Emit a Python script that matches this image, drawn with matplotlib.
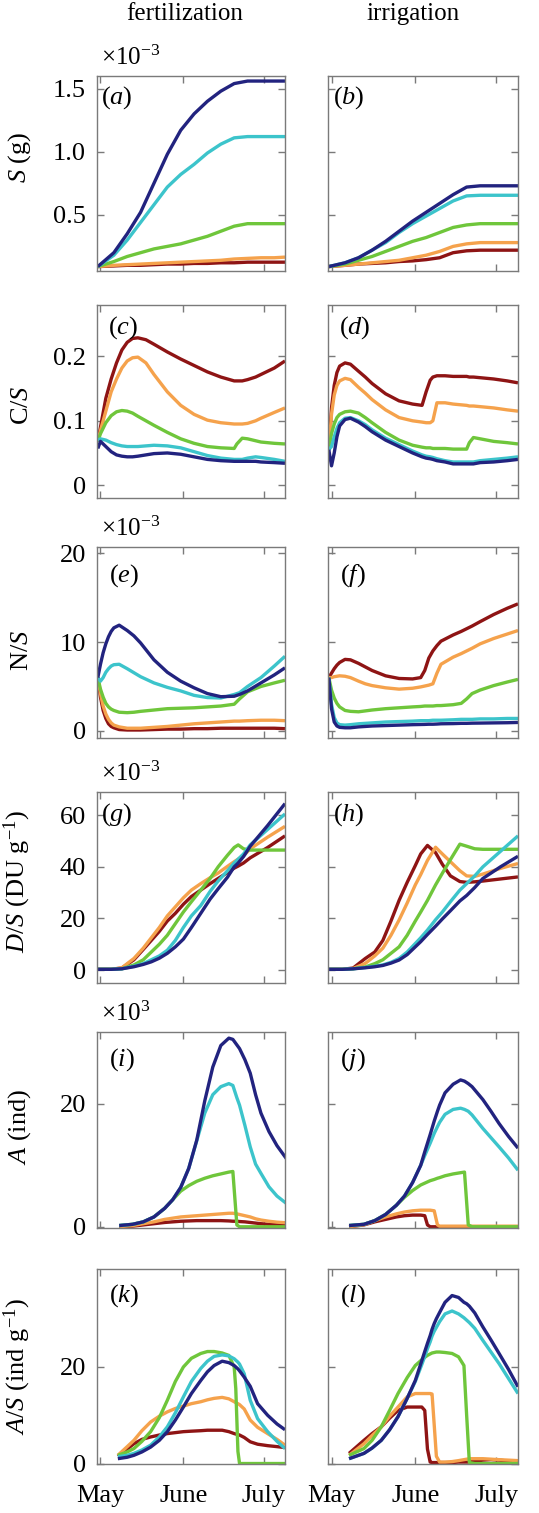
import matplotlib
matplotlib.use("Agg")
import matplotlib.pyplot as plt

plt.rcParams["font.family"] = ["Liberation Serif", "DejaVu Serif"]
plt.rcParams["mathtext.fontset"] = "custom"
plt.rcParams["mathtext.rm"] = "Liberation Serif"
plt.rcParams["mathtext.it"] = "Liberation Serif:italic"
plt.rcParams["mathtext.bf"] = "Liberation Serif:bold"

# ---- data: days counted from 1 May; five scenarios per panel ----
a_days = [-1, 5, 10, 15, 20, 25, 30, 35, 40, 45, 50, 55, 60, 65, 69]
a_red = [0.09, 0.095, 0.1, 0.1, 0.105, 0.11, 0.11, 0.115, 0.115, 0.12, 0.12, 0.125, 0.125, 0.125, 0.125]
a_orange = [0.09, 0.1, 0.105, 0.11, 0.115, 0.12, 0.125, 0.13, 0.135, 0.14, 0.15, 0.155, 0.16, 0.16, 0.165]
a_green = [0.09, 0.13, 0.17, 0.2, 0.23, 0.25, 0.27, 0.3, 0.33, 0.37, 0.41, 0.43, 0.43, 0.43, 0.43]
a_cyan = [0.09, 0.18, 0.3, 0.44, 0.58, 0.72, 0.82, 0.9, 0.99, 1.06, 1.11, 1.12, 1.12, 1.12, 1.12]
a_navy = [0.09, 0.2, 0.35, 0.52, 0.75, 0.98, 1.17, 1.3, 1.4, 1.48, 1.54, 1.56, 1.56, 1.56, 1.56]

b_days = a_days
b_red = [0.09, 0.1, 0.11, 0.115, 0.12, 0.13, 0.135, 0.145, 0.16, 0.2, 0.215, 0.22, 0.22, 0.22, 0.22]
b_orange = [0.09, 0.1, 0.11, 0.12, 0.13, 0.14, 0.16, 0.18, 0.21, 0.25, 0.27, 0.28, 0.28, 0.28, 0.28]
b_green = [0.09, 0.11, 0.14, 0.17, 0.21, 0.25, 0.29, 0.32, 0.36, 0.4, 0.42, 0.43, 0.43, 0.43, 0.43]
b_cyan = [0.09, 0.12, 0.16, 0.22, 0.28, 0.36, 0.43, 0.49, 0.55, 0.61, 0.65, 0.655, 0.655, 0.655, 0.655]
b_navy = [0.09, 0.12, 0.16, 0.22, 0.29, 0.37, 0.45, 0.52, 0.59, 0.66, 0.72, 0.73, 0.73, 0.73, 0.73]

c_days = [-1, 0, 2, 4, 6, 8, 10, 12, 14, 17, 20, 25, 30, 35, 40, 45, 50, 51, 53, 55, 58, 60, 65, 69]
c_red = [0.068, 0.09, 0.135, 0.165, 0.19, 0.21, 0.222, 0.228, 0.229, 0.226, 0.219, 0.207, 0.196, 0.186,
         0.176, 0.168, 0.162, 0.162, 0.162, 0.164, 0.168, 0.172, 0.182, 0.193]
c_orange = [0.068, 0.085, 0.115, 0.145, 0.165, 0.182, 0.193, 0.198, 0.199, 0.19, 0.172, 0.145, 0.124, 0.11,
            0.101, 0.097, 0.095, 0.095, 0.095, 0.096, 0.1, 0.104, 0.113, 0.12]
c_green = [0.068, 0.08, 0.097, 0.108, 0.114, 0.116, 0.115, 0.112, 0.107, 0.1, 0.093, 0.082, 0.072, 0.065,
           0.06, 0.058, 0.057, 0.064, 0.073, 0.072, 0.069, 0.067, 0.065, 0.064]
c_cyan = [0.07, 0.072, 0.07, 0.066, 0.063, 0.061, 0.06, 0.06, 0.06, 0.061, 0.062, 0.061, 0.058, 0.052,
          0.046, 0.042, 0.04, 0.04, 0.04, 0.042, 0.044, 0.043, 0.04, 0.037]
c_navy = [0.057, 0.068, 0.06, 0.052, 0.047, 0.045, 0.044, 0.044, 0.045, 0.047, 0.049, 0.05, 0.048, 0.044,
          0.04, 0.038, 0.037, 0.037, 0.037, 0.037, 0.037, 0.036, 0.035, 0.034]

d_days = [-1, 0, 1, 2, 3, 5, 7, 10, 12.5, 15, 20, 25, 30, 33.5, 35, 36.5, 37.5, 39, 42, 45, 50, 51, 52.5,
          55, 60, 65, 69]
d_red = [0.055, 0.12, 0.155, 0.175, 0.185, 0.19, 0.188, 0.177, 0.168, 0.158, 0.142, 0.131, 0.126, 0.124,
         0.145, 0.163, 0.168, 0.17, 0.17, 0.169, 0.169, 0.168, 0.168, 0.167, 0.165, 0.162, 0.159]
d_orange = [0.055, 0.11, 0.14, 0.155, 0.162, 0.166, 0.164, 0.152, 0.143, 0.133, 0.117, 0.105, 0.1, 0.098,
            0.097, 0.097, 0.1, 0.128, 0.128, 0.126, 0.124, 0.123, 0.123, 0.122, 0.12, 0.117, 0.115]
d_green = [0.055, 0.08, 0.095, 0.105, 0.11, 0.114, 0.115, 0.112, 0.105, 0.097, 0.082, 0.07, 0.062, 0.059,
           0.058, 0.058, 0.057, 0.057, 0.057, 0.056, 0.056, 0.066, 0.074, 0.072, 0.068, 0.066, 0.064]
d_cyan = [0.055, 0.06, 0.075, 0.088, 0.097, 0.104, 0.105, 0.1, 0.094, 0.086, 0.073, 0.063, 0.053, 0.047,
          0.045, 0.044, 0.043, 0.041, 0.038, 0.036, 0.036, 0.036, 0.036, 0.038, 0.04, 0.042, 0.044]
d_navy = [0.055, 0.03, 0.05, 0.075, 0.092, 0.102, 0.104, 0.098, 0.091, 0.083, 0.07, 0.06, 0.05, 0.044,
          0.042, 0.041, 0.04, 0.038, 0.036, 0.033, 0.033, 0.033, 0.033, 0.035, 0.036, 0.038, 0.04]

e_days = [-1, 0, 1, 2, 3, 4, 5, 7, 10, 12.5, 15, 20, 25, 30, 35, 40, 45, 50, 52, 55, 60, 65, 69]
e_red = [6.0, 3.8, 2.3, 1.4, 0.8, 0.5, 0.35, 0.15, 0.1, 0.1, 0.1, 0.15, 0.2, 0.2, 0.25, 0.25, 0.3, 0.3,
         0.3, 0.3, 0.3, 0.3, 0.25]
e_orange = [6.0, 4.2, 2.8, 1.9, 1.3, 0.9, 0.65, 0.45, 0.3, 0.3, 0.3, 0.4, 0.5, 0.65, 0.8, 0.9, 1.0, 1.1,
            1.1, 1.15, 1.2, 1.2, 1.15]
e_green = [6.0, 4.7, 3.8, 3.1, 2.7, 2.45, 2.3, 2.1, 2.05, 2.1, 2.2, 2.35, 2.5, 2.55, 2.6, 2.7, 2.8, 3.0,
           3.6, 4.4, 5.0, 5.4, 5.7]
e_cyan = [6.0, 5.6, 6.0, 6.6, 7.0, 7.3, 7.45, 7.5, 7.0, 6.55, 6.1, 5.4, 4.9, 4.5, 4.0, 3.75, 3.7, 4.1,
          4.3, 5.0, 6.0, 7.3, 8.4]
e_navy = [6.0, 7.5, 8.8, 9.8, 10.6, 11.2, 11.6, 11.9, 11.3, 10.7, 9.9, 8.0, 6.6, 5.6, 4.85, 4.2, 3.85,
          3.9, 4.1, 4.5, 5.4, 6.3, 7.1]

f_days = [-1, 0, 1, 2, 3, 5, 7, 10, 12.5, 15, 20, 25, 30, 33, 34.5, 36, 37.5, 39, 40.5, 45, 48, 50, 52,
          55, 60, 65, 69]
f_red = [6.0, 6.5, 7.0, 7.4, 7.7, 8.05, 8.0, 7.6, 7.2, 6.8, 6.2, 5.9, 5.85, 6.0, 6.8, 8.2, 9.0, 9.6,
         10.1, 10.8, 11.2, 11.5, 11.8, 12.3, 13.1, 13.8, 14.3]
f_orange = [6.0, 6.0, 6.1, 6.15, 6.2, 6.15, 6.0, 5.6, 5.3, 5.1, 4.85, 4.7, 4.8, 4.95, 5.05, 5.15, 5.3,
            6.5, 7.5, 8.3, 8.7, 9.0, 9.3, 9.8, 10.4, 10.9, 11.3]
f_green = [6.0, 4.6, 3.7, 3.1, 2.7, 2.3, 2.2, 2.15, 2.25, 2.35, 2.5, 2.6, 2.7, 2.75, 2.8, 2.8, 2.8,
           2.85, 2.85, 2.95, 3.1, 3.6, 4.2, 4.6, 5.1, 5.5, 5.8]
f_cyan = [6.0, 3.0, 1.5, 0.9, 0.7, 0.65, 0.7, 0.8, 0.85, 0.9, 1.0, 1.05, 1.1, 1.15, 1.15, 1.15, 1.2,
          1.2, 1.2, 1.25, 1.3, 1.3, 1.3, 1.35, 1.35, 1.4, 1.4]
f_navy = [6.0, 2.5, 1.0, 0.55, 0.4, 0.35, 0.35, 0.45, 0.5, 0.55, 0.6, 0.65, 0.7, 0.72, 0.73, 0.75, 0.75,
          0.77, 0.8, 0.82, 0.85, 0.85, 0.87, 0.88, 0.9, 0.92, 0.95]

g_days = [-1, 4, 8, 12.5, 16, 19, 22, 25, 28, 31, 34, 37.5, 41, 44, 47.5, 50, 51.5, 53.5, 56, 62.5, 69]
g_red = [0.3, 0.3, 0.8, 4, 8, 11.5, 15, 19, 22, 25.5, 28.5, 31, 33.5, 35.5, 37.8, 39.5, 40.3, 41.5,
         43.5, 47.5, 52]
g_orange = [0.3, 0.3, 0.9, 4.5, 8.5, 12.5, 16.5, 21, 24.5, 28, 31, 33.5, 35.8, 37.6, 40.2, 42, 43, 44.3,
            47, 51.5, 55.7]
g_green = [0.3, 0.3, 0.5, 2, 4, 7, 10, 13.5, 18, 22.5, 26.5, 31, 35.5, 40, 44.5, 47.5, 48.5, 47, 46.5,
           46.5, 46.5]
g_cyan = [0.3, 0.3, 0.5, 1.5, 2.5, 4, 5.5, 7.7, 11.5, 16.5, 21, 25, 30.5, 34.5, 38.5, 41.5, 43, 45,
          48.5, 54.5, 60.5]
g_navy = [0.3, 0.3, 0.5, 1.3, 2.2, 3.2, 4.6, 6.5, 9, 12, 16.5, 22, 27.5, 31.5, 36, 40, 41.5, 44, 48,
          56, 64.5]

h_days = [-1, 4, 8, 12.5, 16, 19, 22, 25, 28, 31, 33, 35.5, 38.5, 41, 44, 47.5, 50, 53, 56, 62.5, 69]
h_red = [0.3, 0.3, 0.8, 4.5, 7, 11.5, 19, 27, 34, 40.5, 45, 48.3, 45.5, 41, 36.5, 34.3, 34, 34.2, 34.5,
         35.3, 36.1]
h_orange = [0.3, 0.3, 0.6, 2.6, 5.5, 8.5, 13.5, 19.4, 26, 33, 37, 42.5, 47.6, 45, 42, 38.5, 36.5, 36.3,
            37.2, 39.4, 41.3]
h_green = [0.3, 0.3, 0.5, 1.2, 2.5, 4, 6.5, 9, 13.5, 19, 22.5, 27, 33, 37.5, 42.8, 48.8, 48, 47, 46.8,
           46.8, 46.8]
h_cyan = [0.3, 0.3, 0.5, 1, 1.5, 2, 3, 4.5, 7, 10.3, 12.5, 15.5, 19.5, 22.5, 26.5, 31, 33.5, 36.5, 40,
          46, 52]
h_navy = [0.3, 0.3, 0.5, 0.9, 1.3, 1.8, 2.7, 3.9, 6, 9, 11, 13.8, 17, 19.8, 23, 26.8, 28.9, 32, 35.5,
          40, 44.1]

i_days = [7, 12, 16, 20, 24, 27, 30, 33, 36, 39, 42, 45, 48, 49.5, 51, 52, 54, 56, 58, 60, 63, 66, 69.5]
i_red = [0.0, 0.1, 0.3, 0.5, 0.7, 0.8, 0.9, 0.95, 1.0, 1.0, 1.0, 1.0, 0.95, 0.9, 0.9, 0.85, 0.8, 0.7,
         0.6, 0.5, 0.4, 0.35, 0.3]
i_orange = [0.0, 0.2, 0.5, 0.8, 1.2, 1.4, 1.6, 1.7, 1.8, 1.9, 2.0, 2.1, 2.2, 2.2, 2.1, 2.0, 1.8, 1.6,
            1.3, 1.1, 0.9, 0.75, 0.65]
i_green = [0.2, 0.4, 0.8, 1.6, 3.0, 4.4, 5.8, 6.7, 7.4, 7.9, 8.3, 8.6, 8.9, 9.0, 0.3, 0, 0, 0, 0, 0,
           0, 0, 0]
i_cyan = [0.2, 0.4, 0.8, 1.6, 3.0, 4.4, 6.4, 9.5, 14.0, 18.5, 21.5, 22.8, 23.3, 23.0, 21.0, 19.8, 16.5,
          13.0, 10.2, 8.7, 6.5, 5.0, 3.8]
i_navy = [0.2, 0.4, 0.8, 1.6, 3.0, 4.4, 6.4, 9.5, 14.1, 20.5, 26.0, 29.5, 30.7, 30.5, 29.6, 29.0, 27.2,
          25.0, 21.5, 18.5, 15.5, 13.2, 11.1]

j_days = [6.5, 12, 16, 20, 24, 27, 30, 33, 34.5, 35.5, 36.5, 38, 39.2, 40, 42, 45, 47.75, 49.2, 50.6,
          52, 56, 59, 62, 65.5, 69]
j_red = [0, 0.3, 0.8, 1.2, 1.6, 1.8, 1.9, 1.9, 1.8, 0.3, 0, 0, 0, 0, 0, 0, 0, 0, 0, 0, 0, 0, 0, 0, 0]
j_orange = [0, 0.35, 1.0, 1.6, 2.1, 2.4, 2.6, 2.7, 2.7, 2.7, 2.7, 2.6, 0.3, 0.1, 0.1, 0.1, 0.1, 0.1,
            0.1, 0.1, 0.1, 0.1, 0.1, 0.1, 0.1]
j_green = [0.2, 0.4, 1.0, 2.0, 3.5, 4.8, 5.9, 6.8, 7.1, 7.3, 7.5, 7.7, 7.9, 8.0, 8.3, 8.6, 8.8, 8.9,
           0.3, 0, 0, 0, 0, 0, 0]
j_cyan = [0.2, 0.4, 1.0, 2.0, 3.5, 5.0, 7.2, 10.0, 11.6, 12.6, 13.6, 15.2, 16.3, 17.0, 18.3, 19.1, 19.3,
          19.1, 18.8, 18.2, 16.0, 14.5, 13.0, 11.2, 9.2]
j_navy = [0.2, 0.4, 1.0, 2.0, 3.5, 5.0, 7.2, 10.0, 12.2, 13.6, 15.0, 17.2, 18.8, 19.8, 21.8, 23.2, 23.9,
          23.7, 23.3, 22.8, 20.7, 18.8, 16.8, 14.7, 12.8]

k_days = [6.5, 10, 12.5, 15.5, 18.75, 22, 25, 28, 31, 34, 37.5, 40, 42.5, 45.5, 48, 50, 50.6, 51.4, 52,
          53.75, 56, 58.75, 62.5, 66, 69]
k_red = [1.5, 3.0, 4.1, 5.0, 5.5, 5.9, 6.2, 6.4, 6.6, 6.7, 6.8, 6.9, 6.9, 6.9, 6.6, 6.2, 6.1, 6.0, 5.9,
         5.4, 4.5, 4.0, 3.7, 3.5, 3.3]
k_orange = [1.7, 3.5, 4.8, 6.8, 8.6, 9.8, 10.7, 11.4, 11.9, 12.4, 12.8, 13.2, 13.5, 13.7, 13.4, 12.8,
            12.6, 12.4, 12.2, 11.3, 9.0, 7.5, 6.2, 5.0, 3.8]
k_green = [1.7, 2.4, 3.1, 4.6, 6.6, 9.5, 13.1, 17.0, 20.0, 21.8, 22.8, 23.2, 23.2, 22.9, 22.4, 20.0,
           15.5, 2.5, 0, 0, 0, 0, 0, 0, 0]
k_cyan = [1.4, 1.7, 2.1, 2.8, 3.8, 5.5, 7.6, 10.5, 13.8, 17.0, 19.7, 21.2, 22.2, 22.5, 22.3, 21.7, 21.4,
          21.0, 20.6, 18.6, 13.1, 9.3, 6.6, 4.6, 3.1]
k_navy = [1.0, 1.3, 1.7, 2.4, 3.4, 4.8, 6.6, 9.0, 11.7, 14.5, 17.2, 19.0, 20.3, 21.2, 20.9, 20.3, 20.0,
          19.6, 19.2, 17.9, 16.0, 12.4, 10.0, 8.2, 7.0]

l_days = [6.5, 12, 15, 18.4, 21.5, 24.6, 28, 31, 33.4, 34.5, 35.5, 36.5, 37.2, 38, 38.8, 40, 42, 44.6,
          47, 49, 50, 51, 53, 56, 59, 62, 65.5, 69]
l_red = [2.1, 4.8, 6.2, 7.6, 9.4, 11.0, 11.7, 11.7, 11.7, 11.0, 3.0, 0.3, 0.2, 0.2, 0.2, 0.2, 0.2, 0.2,
         0.3, 0.3, 0.3, 0.3, 0.5, 0.7, 0.8, 0.7, 0.5, 0.4]
l_orange = [1.7, 4.1, 5.8, 7.6, 9.8, 11.7, 13.8, 14.5, 14.5, 14.5, 14.5, 14.5, 14.4, 8.0, 1.5, 0.3, 0.3,
            0.4, 0.6, 0.8, 0.9, 1.0, 1.0, 1.0, 0.9, 0.8, 0.7, 0.6]
l_green = [1.7, 3.1, 4.8, 7.6, 11.0, 14.5, 17.8, 20.3, 21.5, 22.0, 22.4, 22.7, 22.9, 23.0, 23.1, 23.1,
           23.0, 22.8, 22.1, 20.3, 10.0, 0.2, 0, 0, 0, 0, 0, 0]
l_cyan = [1.0, 2.1, 3.2, 4.8, 7.0, 9.7, 13.5, 17.0, 20.5, 22.2, 23.8, 25.2, 26.4, 27.4, 28.2, 29.4, 31.0,
          31.6, 31.0, 30.2, 29.7, 29.2, 28.0, 25.5, 23.1, 20.7, 17.6, 14.5]
l_navy = [1.0, 2.1, 3.2, 4.8, 7.0, 9.7, 13.5, 17.2, 21.3, 23.2, 24.9, 26.5, 27.8, 29.0, 30.0, 31.3, 33.4,
          34.8, 34.4, 33.4, 33.1, 32.6, 31.2, 28.3, 25.6, 22.8, 19.5, 15.9]

col_titles = ["fertilization", "irrigation"]
row_ylabels = [r"$S$ (g)", r"C/$S$", r"N/$S$", r"$D/S$ (DU g$^{-1}$)", r"$A$ (ind)",
               r"$A/S$ (ind g$^{-1}$)"]
row_yticks = [[0.5, 1.0, 1.5], [0, 0.1, 0.2], [0, 10, 20], [0, 20, 40, 60], [0, 20], [0, 20]]
row_yticklabels = [["0.5", "1.0", "1.5"], ["0", "0.1", "0.2"], ["0", "10", "20"],
                   ["0", "20", "40", "60"], ["0", "20"], ["0", "20"]]
row_ylims = [(0.055, 1.6), (-0.02, 0.28), (-0.8, 20.7), (-5, 69), (-0.2, 31.7), (-0.1, 40.3)]
row_scale = [r"$\times10^{-3}$", None, r"$\times10^{-3}$", r"$\times10^{-3}$", r"$\times10^{3}$", None]
month_ticks = [0, 31, 61]
month_labels = ["May", "June", "July"]

panels = [
    ("a", a_days, [a_red, a_orange, a_green, a_cyan, a_navy]),
    ("b", b_days, [b_red, b_orange, b_green, b_cyan, b_navy]),
    ("c", c_days, [c_red, c_orange, c_green, c_cyan, c_navy]),
    ("d", d_days, [d_red, d_orange, d_green, d_cyan, d_navy]),
    ("e", e_days, [e_red, e_orange, e_green, e_cyan, e_navy]),
    ("f", f_days, [f_red, f_orange, f_green, f_cyan, f_navy]),
    ("g", g_days, [g_red, g_orange, g_green, g_cyan, g_navy]),
    ("h", h_days, [h_red, h_orange, h_green, h_cyan, h_navy]),
    ("i", i_days, [i_red, i_orange, i_green, i_cyan, i_navy]),
    ("j", j_days, [j_red, j_orange, j_green, j_cyan, j_navy]),
    ("k", k_days, [k_red, k_orange, k_green, k_cyan, k_navy]),
    ("l", l_days, [l_red, l_orange, l_green, l_cyan, l_navy]),
]

colors = ["#8e1414", "#f5a24c", "#6fc63b", "#3cc4cb", "#22237f"]
frame = "#7a7a7a"

# layout in pixels of the 539x1513 canvas
W, H = 539, 1513
row_top = [76, 305, 547, 792, 1032, 1269]
row_bot = [271, 498, 738, 983, 1228, 1464]
col_x = [(97, 285), (328, 518)]
label_pos = [(0.02, 0.96), (0.06, 0.955), (0.065, 0.92), (0.02, 0.95), (0.065, 0.93), (0.065, 0.935)]
ylabel_y = [0.585, 0.48, 0.46, 0.53, 0.515, 0.5]

fig = plt.figure(figsize=(W / 100, H / 100), dpi=100)

for idx, (letter, days, series) in enumerate(panels):
    row, col = divmod(idx, 2)
    x0, x1 = col_x[col]
    ax = fig.add_axes([x0 / W, 1 - row_bot[row] / H, (x1 - x0) / W, (row_bot[row] - row_top[row]) / H])
    for ys, c in zip(series, colors):
        ax.plot(days, ys, color=c, lw=2.4, solid_joinstyle="round", solid_capstyle="butt")

    ax.set_xlim(-1.3, 69)
    ax.set_ylim(*row_ylims[row])
    ax.set_xticks(month_ticks)
    ax.set_yticks(row_yticks[row])
    ax.tick_params(direction="in", top=True, right=True, length=5, width=1, color=frame,
                   labelsize=19, pad=8)
    ax.tick_params(axis="x", pad=15)
    for sp in ax.spines.values():
        sp.set_color(frame)
        sp.set_linewidth(1)

    if row == 5:
        ax.set_xticklabels(month_labels)
    else:
        ax.set_xticklabels([])
    if col == 0:
        ax.set_yticklabels(row_yticklabels[row])
        ax.set_ylabel(row_ylabels[row], fontsize=19)
        ax.yaxis.set_label_coords(-0.34, ylabel_y[row])
        if row_scale[row]:
            ax.text(0.02, 1.03, row_scale[row], transform=ax.transAxes, fontsize=18,
                    ha="left", va="bottom")
    else:
        ax.set_yticklabels([])

    lx, ly = label_pos[row]
    if col == 1 and row in (0, 3):
        lx = 0.025
    ax.text(lx, ly, "($%s$)" % letter, transform=ax.transAxes, fontsize=19, ha="left", va="top")

fig.text(185 / W, 1 - 14 / H, col_titles[0], fontsize=18, ha="center", va="center")
fig.text(413 / W, 1 - 14 / H, col_titles[1], fontsize=18, ha="center", va="center")

fig.savefig("out.png", dpi=100)
